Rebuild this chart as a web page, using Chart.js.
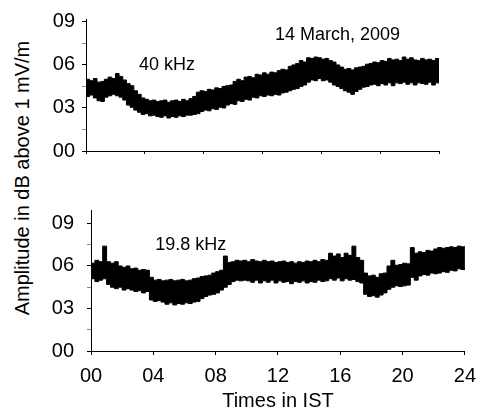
<!DOCTYPE html>
<html>
<head>
<meta charset="utf-8">
<script src="https://cdn.jsdelivr.net/npm/chart.js@4/dist/chart.umd.min.js"></script>
<style>
html,body{margin:0;padding:0;background:#fff;}
#wrap{position:relative;width:485px;height:414px;overflow:hidden;font-family:"Liberation Sans",Arial,sans-serif;}
#c1{position:absolute;left:0;top:0;width:485px;height:170px;}
#c2{position:absolute;left:0;top:185px;width:485px;height:229px;}
#ytitle{position:absolute;left:22px;top:178px;transform:translate(-50%,-50%) rotate(-90deg);white-space:nowrap;font-size:20px;color:#000;line-height:1;}
</style>
</head>
<body>
<div id="wrap">
  <div id="ytitle">Amplitude in dB above 1 mV/m</div>
  <canvas id="c1" width="485" height="170"></canvas>
  <canvas id="c2" width="485" height="229"></canvas>
</div>
<script>
// ---------- DATA ----------
const HOURS = [
  0,0.25,0.5,0.75,1,1.25,1.5,1.75,2,2.25,2.5,2.75,3,3.25,3.5,3.75,
  4,4.25,4.5,4.75,5,5.25,5.5,5.75,6,6.25,6.5,6.75,7,7.25,7.5,7.75,
  8,8.25,8.5,8.75,9,9.25,9.5,9.75,10,10.25,10.5,10.75,11,11.25,11.5,11.75,
  12,12.25,12.5,12.75,13,13.25,13.5,13.75,14,14.25,14.5,14.75,15,15.25,15.5,15.75,
  16,16.25,16.5,16.75,17,17.25,17.5,17.75,18,18.25,18.5,18.75,19,19.25,19.5,19.75,
  20,20.25,20.5,20.75,21,21.25,21.5,21.75,22,22.25,22.5,22.75,23,23.25,23.5,23.75,
  24
];

// 40 kHz signal: upper and lower edge of the noisy trace (dB above 1 mV/m)
const UPPER_40 = [
  5.0,4.9,5.05,4.8,4.85,5.0,5.15,5.05,5.4,5.2,4.95,4.7,4.55,4.2,3.95,3.7,
  3.6,3.5,3.55,3.45,3.5,3.55,3.4,3.5,3.55,3.45,3.6,3.5,3.65,3.8,4.1,4.2,
  4.15,4.3,4.25,4.4,4.35,4.5,4.55,4.6,4.85,5.0,4.9,5.15,5.2,5.1,5.35,5.3,
  5.45,5.35,5.5,5.45,5.6,5.7,5.65,5.9,6.0,6.1,6.3,6.2,6.5,6.45,6.55,6.5,
  6.4,6.45,6.3,6.2,6.0,5.85,5.7,5.75,5.65,5.8,5.85,5.9,6.05,6.1,6.2,6.15,
  6.3,6.25,6.45,6.35,6.4,6.3,6.55,6.4,6.5,6.35,6.3,6.45,6.35,6.4,6.3,6.45,
  6.4
];
const LOWER_40 = [
  3.8,3.9,3.7,3.5,3.45,3.75,3.85,3.95,3.85,3.75,3.55,3.2,3.05,2.85,2.7,2.55,
  2.6,2.45,2.5,2.4,2.35,2.45,2.3,2.4,2.35,2.45,2.4,2.5,2.5,2.55,2.6,2.75,
  2.85,2.8,2.95,2.9,3.05,3.0,3.2,3.3,3.25,3.5,3.45,3.6,3.55,3.75,3.7,3.85,
  3.8,3.9,3.85,3.95,3.9,4.05,4.1,4.2,4.3,4.35,4.5,4.6,4.8,4.95,4.9,5.05,
  4.9,4.95,4.8,4.6,4.5,4.35,4.2,4.1,3.95,4.15,4.3,4.45,4.5,4.6,4.65,4.55,
  4.7,4.6,4.75,4.55,4.75,4.7,4.8,4.65,4.75,4.6,4.75,4.7,4.65,4.8,4.6,4.75,
  4.7
];

// 19.8 kHz signal: upper and lower edge of the noisy trace
const UPPER_198 = [
  6.2,6.4,6.3,7.4,6.3,6.2,6.3,6.0,5.9,6.0,5.8,5.85,5.7,5.75,5.7,5.2,
  5.0,5.05,4.95,5.0,5.05,4.95,5.0,5.05,4.95,5.0,5.1,5.15,5.25,5.3,5.35,5.5,
  5.6,5.7,6.7,6.25,6.3,6.4,6.35,6.4,6.3,6.45,6.35,6.3,6.4,6.3,6.35,6.25,
  6.3,6.35,6.25,6.3,6.2,6.3,6.25,6.35,6.3,6.4,6.3,6.45,6.4,6.9,6.7,6.85,
  6.6,6.9,6.75,7.4,6.6,6.4,5.5,5.3,5.35,5.2,5.45,5.5,6.0,6.4,6.05,6.1,
  6.2,6.15,7.3,6.9,7.0,6.95,7.1,7.05,7.2,7.3,7.25,7.3,7.35,7.3,7.4,7.35,
  7.4
];
const LOWER_198 = [
  5.1,4.9,5.0,5.1,4.7,4.5,4.4,4.5,4.3,4.4,4.3,4.2,4.25,4.1,4.2,3.6,
  3.5,3.55,3.45,3.3,3.4,3.25,3.35,3.3,3.4,3.35,3.45,3.5,3.7,3.85,3.95,4.0,
  4.1,4.3,4.5,4.7,4.9,5.0,4.95,5.0,4.95,4.85,5.0,4.8,4.95,4.85,5.0,4.8,
  4.95,4.85,4.9,4.75,4.9,4.85,4.95,4.8,4.9,4.85,5.0,4.9,4.95,5.1,5.0,5.15,
  4.95,5.1,5.0,5.05,4.9,4.8,4.0,3.85,3.9,3.8,3.95,4.1,4.35,4.5,4.6,4.55,
  4.6,4.65,5.2,5.0,5.3,5.4,5.35,5.5,5.45,5.5,5.6,5.55,5.7,5.65,5.8,5.75,
  5.85
];

const X_TICKS = [0,4,8,12,16,20,24];
const Y_TICKS = [0,1.5,3,4.5,6,7.5,9];
const TEXT_TOP = ["40 kHz","14 March, 2009"];
const TEXT_BOTTOM = ["19.8 kHz"];
const X_TITLE = "Times in IST";

// ---------- CHARTS ----------
Chart.defaults.font.family = '"Liberation Sans", Arial, sans-serif';
Chart.defaults.color = '#000';

const pts = (ys) => HOURS.map((h,i)=>({x:h,y:ys[i]}));
const two = v => (v<10?'0':'') + v;

const annot = {
  id:'annot',
  afterDatasetsDraw(chart, args, opts){
    const ctx = chart.ctx;
    ctx.save();
    ctx.font = '18px "Liberation Sans", Arial, sans-serif';
    ctx.fillStyle = '#000';
    ctx.textAlign = 'center';
    ctx.textBaseline = 'middle';
    (opts.items||[]).forEach(a=>{
      ctx.fillText(a.text, chart.scales.x.getPixelForValue(a.x), chart.scales.y.getPixelForValue(a.y));
    });
    ctx.restore();
  }
};

function datasets(lower, upper){
  const common = {borderColor:'#000', borderWidth:1, pointRadius:0, stepped:true, tension:0};
  return [
    Object.assign({data:pts(lower), fill:false}, common),
    Object.assign({data:pts(upper), fill:'-1', backgroundColor:'#000'}, common)
  ];
}

function makeChart(id, cfg){
  return new Chart(document.getElementById(id), {
    type:'line',
    data:{datasets:datasets(cfg.lower, cfg.upper)},
    plugins:[annot],
    options:{
      responsive:false, animation:false, devicePixelRatio:1,
      layout:{padding:{left:0, top:cfg.padTop, right:cfg.padRight, bottom:0}},
      plugins:{legend:{display:false}, tooltip:{enabled:false}, annot:{items:cfg.items}},
      scales:{
        x:{
          type:'linear', min:0, max:24,
          afterBuildTicks:s=>{s.ticks = X_TICKS.map(v=>({value:v}));},
          afterFit:s=>{s.height = cfg.xHeight;},
          ticks:{display:true, autoSkip:false, maxRotation:0, padding:cfg.xPad,
                 font:{size:20}, callback:v=> cfg.xLabels ? two(v) : ''},
          grid:{drawOnChartArea:false, drawTicks:true, tickLength:cfg.xTick, color:'#000', tickColor:'#000'},
          border:{color:'#000', width:1},
          title:{display:!!cfg.xTitle, text:cfg.xTitle||'', font:{size:20}, padding:{top:0,bottom:1}}
        },
        y:{
          type:'linear', min:0, max:cfg.yMax,
          afterBuildTicks:s=>{s.ticks = Y_TICKS.map(v=>({value:v}));},
          afterFit:s=>{s.width = cfg.yWidth;},
          ticks:{autoSkip:false, padding:cfg.yPad, font:{size:20},
                 callback:v=> (v%3===0 ? two(v) : '')},
          grid:{drawOnChartArea:false, drawTicks:true, tickLength:4, color:'#000',
                tickColor:c=> (c.tick && c.tick.value%3===0) ? '#000' : '#888'},
          border:{color:'#000', width:1}
        }
      }
    }
  });
}

makeChart('c1', {
  lower:LOWER_40, upper:UPPER_40, yMax:9.2, yWidth:86, yPad:7,
  padTop:13, padRight:46, xHeight:17, xTick:3, xPad:0, xLabels:false,
  items:[{text:TEXT_TOP[0], x:5.5, y:6.0},{text:TEXT_TOP[1], x:17.1, y:8.1}]
});
makeChart('c2', {
  lower:LOWER_198, upper:UPPER_198, yMax:9.95, yWidth:91, yPad:13,
  padTop:18, padRight:16, xHeight:63, xTick:4, xPad:9, xLabels:true, xTitle:X_TITLE,
  items:[{text:TEXT_BOTTOM[0], x:6.4, y:7.45}]
});
</script>
</body>
</html>
